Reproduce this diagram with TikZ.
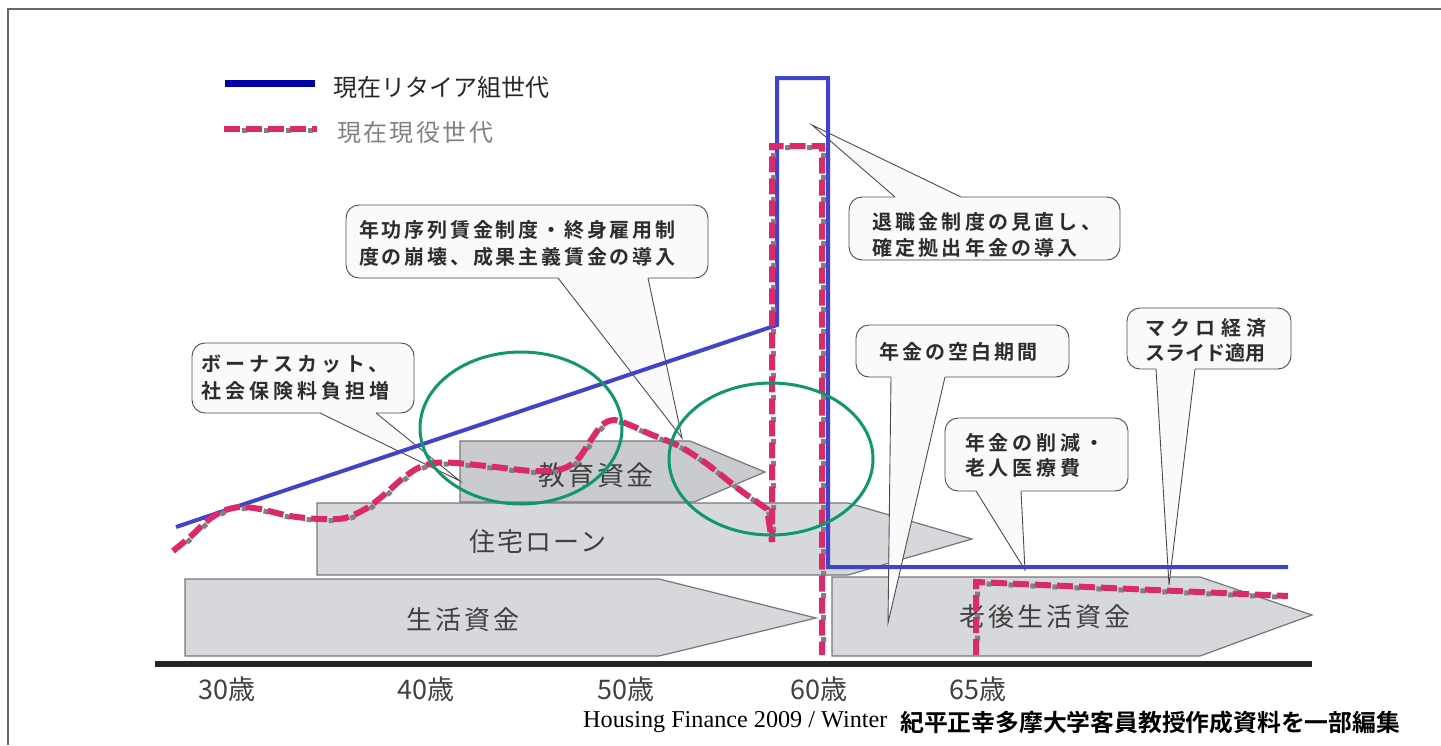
\documentclass[tikz,border=0pt]{standalone}
\usepackage{fontspec}
\setmainfont{Liberation Serif}
\newfontfamily\jp{Noto Sans CJK JP}
\newfontfamily\jpb{Noto Sans CJK JP Bold}
\newcommand\lsp[1]{\addfontfeature{LetterSpace=#1}}
\definecolor{rline}{RGB}{64,68,204}
\definecolor{legblue}{RGB}{0,0,168}
\definecolor{pk}{RGB}{218,42,105}
\definecolor{shd}{RGB}{128,128,128}
\definecolor{grn}{RGB}{18,150,110}
\definecolor{arrfill}{RGB}{215,216,219}
\definecolor{arrfilltop}{RGB}{202,203,206}
\definecolor{arredge}{RGB}{118,118,118}
\definecolor{cofill}{RGB}{250,250,250}
\definecolor{cotxt}{RGB}{45,45,45}
\definecolor{lbl}{RGB}{64,64,64}
\tikzset{
  arr/.style={fill=arrfill, draw=arredge, line width=1.2pt, line join=miter},
  arrlbl/.style={text=lbl, inner sep=0pt, font=\jp\fontsize{26}{30}\selectfont\lsp{11}},
  co/.style={fill=cofill, draw=black!70, line width=0.9pt, rounded corners=13pt},
  coline/.style={draw=black!70, line width=0.9pt, line join=miter},
  cof/.style={fill=cofill},
  cot/.style={text=cotxt, inner sep=0pt, align=left, anchor=west},
  blueline/.style={draw=rline, line width=4pt, line join=miter},
  pinkline/.style={draw=pk, line width=6pt, dash pattern=on 16pt off 6pt, line join=miter},
  pinkshadow/.style={draw=shd, line width=5pt, dash pattern=on 5pt off 17pt, dash phase=6pt, line join=miter, shift={(1.5,1.5)}},
  ell/.style={draw=grn, line width=3pt},
  age/.style={text=lbl, inner sep=0pt, font=\jp\fontsize{27}{30}\selectfont},
}
\newcommand\pinkA{plot[smooth,tension=0.5] coordinates{(173,551) (190,537) (207,521) (223,511) (240,507) (260,509) (290,516) (320,519) (345,518) (367,508) (385,494) (402,479) (418,468) (435,463) (456,463) (495,467) (533,471) (562,469) (578,459) (591,440) (602,425) (614,420) (630,425) (650,434) (679,446) (707,464) (740,490) (767,509)} -- (772,542) -- (772,146) -- (822,146) -- (822,655)}
\newcommand\pinkB{(976,655) -- (976,582) -- (1288,596)}
\begin{document}
\begin{tikzpicture}[x=1pt,y=-1pt]
\useasboundingbox (0,0) rectangle (1441,745);
% frame
\draw[draw=black!60, line width=1.5pt] (8,745) -- (8,9) -- (1441,9);
% axis
\draw[draw=black!85, line width=6pt] (155,664) -- (1312,664);
% arrows
\draw[arr] (185,579) -- (659,579) -- (816,618) -- (659,656) -- (185,656) -- cycle;
\node[arrlbl] (a1) at (463,620) {生活資金};
\draw[arr] (317,503) -- (848,503) -- (972,539) -- (848,575) -- (317,575) -- cycle;
\node[arrlbl, font=\jp\fontsize{26}{30}\selectfont\lsp{8}] (a2) at (538,542) {住宅ローン};
\draw[arr, fill=arrfilltop] (460,441) -- (690,441) -- (765,472) -- (694,502) -- (460,502) -- cycle;
\node[arrlbl, font=\jp\fontsize{27}{30}\selectfont\lsp{8}] (a3) at (596,475) {教育資金};
\draw[arr] (832,577) -- (1200,577) -- (1312,615) -- (1200,656) -- (832,656) -- cycle;
\node[arrlbl] (a4) at (1045,617) {老後生活資金};
% callout 1
\draw[co] (192,343) rectangle (414,413);
\coordinate (t1) at (460,481);
\fill[cof] (320,409) -- (320,413.5) -- (t1) -- (376,413.5) -- (376,409) -- cycle;
\draw[coline] (320,413) -- (t1) -- (376,413);
\node[cot, font=\jpb\fontsize{20}{27}\selectfont\lsp{20}] (c1) at (201,378) {ボーナスカット、\\社会保険料負担増};
% callout 2
\draw[co] (346,205) rectangle (708,278);
\coordinate (t2) at (682,438);
\fill[cof] (558,274) -- (558,278.5) -- (t2) -- (648,278.5) -- (648,274) -- cycle;
\draw[coline] (558,278) -- (t2) -- (648,278);
\node[cot, font=\jpb\fontsize{20}{27}\selectfont\lsp{14}] (c2) at (359,243) {年功序列賃金制度・終身雇用制\\度の崩壊、成果主義賃金の導入};
% callout 3
\draw[co] (849,197) rectangle (1120,260);
\coordinate (t3) at (812,125);
\fill[cof] (895,201) -- (895,196.5) -- (t3) -- (961,196.5) -- (961,201) -- cycle;
\draw[coline] (895,197) -- (t3) -- (961,197);
\node[cot, font=\jpb\fontsize{20}{26}\selectfont\lsp{16}] (c3) at (872,235) {退職金制度の見直し、\\確定拠出年金の導入};
% callout 4
\draw[co] (856,325) rectangle (1069,377);
\coordinate (t4) at (888,623);
\fill[cof] (891,373) -- (891,377.5) -- (t4) -- (945,377.5) -- (945,373) -- cycle;
\draw[coline] (891,377) -- (t4) -- (945,377);
\node[cot, font=\jpb\fontsize{20}{27}\selectfont\lsp{15}] (c4) at (879,352) {年金の空白期間};
% callout 5
\draw[co] (945,418) rectangle (1128,491);
\coordinate (t5) at (1025,570);
\fill[cof] (976,487) -- (976,491.5) -- (t5) -- (1021,491.5) -- (1021,487) -- cycle;
\draw[coline] (976,491) -- (t5) -- (1021,491);
\node[cot, font=\jpb\fontsize{20}{25}\selectfont\lsp{19}] (c5) at (965,455) {年金の削減・\\老人医療費};
% callout 6
\draw[co] (1127,308) rectangle (1291,369);
\coordinate (t6) at (1169,585);
\fill[cof] (1156,365) -- (1156,369.5) -- (t6) -- (1195,369.5) -- (1195,365) -- cycle;
\draw[coline] (1156,369) -- (t6) -- (1195,369);
\node[cot, font=\jpb\fontsize{20}{25}\selectfont] (c6) at (1145,340) {{\lsp{27}マクロ経済}\\スライド適用};
% lines
\draw[blueline] (176,527) -- (777,325) -- (777,78) -- (828,78) -- (828,567) -- (1288,567);
\draw[pinkshadow] \pinkA;
\draw[pinkline] \pinkA;
\draw[pinkshadow] \pinkB;
\draw[pinkline] \pinkB;
% ellipses
\draw[ell] (521,428) ellipse [x radius=101, y radius=76];
\draw[ell] (771,459) ellipse [x radius=102, y radius=76];
% legend
\draw[draw=legblue, line width=7pt] (225,83) -- (315,83);
\node[anchor=west, inner sep=0pt, text=black!85, font=\jp\fontsize{24}{28}\selectfont] (lg1) at (333,87) {現在リタイア組世代};
\draw[pinkshadow] (224,129) -- (317,129);
\draw[pinkline] (224,129) -- (317,129);
\node[anchor=west, inner sep=0pt, text=shd, font=\jp\fontsize{24}{28}\selectfont\lsp{10}] (lg2) at (337,132) {現在現役世代};
% ages
\node[age] (g30) at (227,689) {30歳};
\node[age] (g40) at (426,689) {40歳};
\node[age] (g50) at (626,689) {50歳};
\node[age] (g60) at (819,689) {60歳};
\node[age] (g65) at (978,689) {65歳};
% caption
\node[anchor=west, inner sep=0pt, font=\fontsize{24.2}{28}\selectfont] (cap1) at (583,722) {Housing Finance 2009 / Winter};
\node[anchor=west, inner sep=0pt, font=\jpb\fontsize{23.8}{28}\selectfont] (cap2) at (900,722) {紀平正幸多摩大学客員教授作成資料を一部編集};
\end{tikzpicture}
\end{document}
